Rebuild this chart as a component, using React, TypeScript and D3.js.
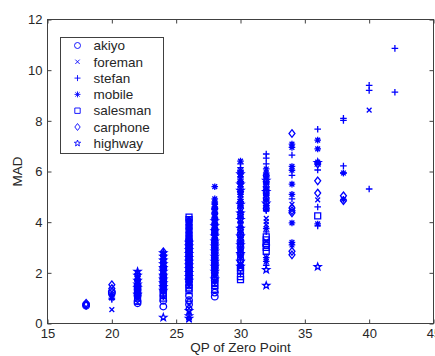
import React, { useEffect, useRef } from 'react';
import * as d3 from 'd3';

const qpTicks = [15, 20, 25, 30, 35, 40, 45];
const madTicks = [0, 2, 4, 6, 8, 10, 12];

// each entry: [QP, MAD values measured at that QP]
type Column = [number, number[]];

const akiyo: Column[] = [
  [18, [0.75, 0.7]],
  [20, [1.2, 1.25]],
  [22, [0.8, 0.88, 1.1, 1.2, 1.35, 1.5]],
  [24, [0.67, 0.9, 1.3, 1.45, 1.6, 1.75, 1.9, 2.2]],
  [26, [0.75, 0.92, 1.1, 1.5, 1.65, 1.8, 1.95, 2.1, 2.25, 2.4, 2.55, 2.7, 2.85, 3.0, 3.15, 3.3]],
  [28, [1.06, 1.22, 1.7, 1.85, 2.0, 2.2, 2.4, 2.6, 2.8, 3.0, 3.2]],
  [30, [2.5, 2.75, 3.0, 3.25, 3.5]],
  [32, [3.1]],
];
const foreman: Column[] = [
  [20, [0.55, 1.05]],
  [22, [0.82, 1.0, 1.2, 1.4, 1.6, 1.8]],
  [24, [1.4, 1.55, 1.7, 1.85, 2.0, 2.15, 2.3, 2.45, 2.6, 2.75]],
  [26, [0.15, 0.45, 1.45, 1.6, 1.75, 1.9, 2.05, 2.2, 2.35, 2.5, 2.65, 2.8, 2.95, 3.1, 3.25, 3.4, 3.55, 3.7, 3.85]],
  [28, [1.9, 2.1, 2.3, 2.5, 2.7, 2.9, 3.1, 3.3, 3.5, 3.7, 3.9, 4.1, 4.3]],
  [30, [2.7, 3.0, 3.3, 3.6, 3.9, 4.2, 4.5, 4.8, 5.1]],
  [32, [4.15, 4.02, 3.9, 3.25]],
  [34, [4.7]],
  [36, [4.88]],
  [40, [8.42]],
];
const stefan: Column[] = [
  [20, [1.1, 0.95]],
  [22, [1.05, 1.25, 1.35, 1.55, 1.75]],
  [24, [1.05, 1.25, 1.4, 1.55, 1.7, 1.85, 2.0, 2.15, 2.3, 2.45, 2.55, 2.7]],
  [26, [1.6, 1.75, 1.9, 2.05, 2.2, 2.35, 2.5, 2.65, 2.8, 2.95, 3.1, 3.25, 3.4, 3.55, 3.7, 3.85, 4.0]],
  [28, [1.65, 1.9, 2.1, 2.3, 2.5, 2.7, 2.9, 3.1, 3.3, 3.5, 3.7, 3.9, 4.1, 4.3, 4.5, 4.75]],
  [30, [1.95, 2.4, 2.65, 2.9, 3.15, 3.4, 3.6, 3.8, 4.0, 4.2, 4.4, 4.6, 4.8, 5.0, 5.2, 5.4, 5.6, 5.8, 6.0, 6.15, 6.3]],
  [32, [6.69, 6.53, 6.3, 5.75, 5.5, 5.3, 5.05, 4.85, 4.65, 4.45, 3.62, 2.3]],
  [34, [6.65, 5.85, 4.92]],
  [36, [7.67, 6.06, 4.6, 3.85]],
  [38, [8.1, 8.02, 6.22, 5.94]],
  [40, [9.4, 9.2, 5.31]],
  [42, [10.86, 9.13]],
];
const mobile: Column[] = [
  [20, [1.0, 1.15]],
  [22, [1.15, 1.3, 1.45, 1.65, 1.85]],
  [24, [1.35, 1.5, 1.65, 1.8, 1.95, 2.1, 2.25, 2.4, 2.55, 2.65]],
  [26, [1.55, 1.7, 1.85, 2.0, 2.15, 2.3, 2.45, 2.6, 2.75, 2.9, 3.05, 3.2, 3.35, 3.5, 3.65, 3.8, 3.95, 4.1]],
  [28, [5.4, 4.92, 4.8, 4.7, 4.6, 4.5, 4.4, 4.2, 4.0, 3.8, 3.6, 3.4, 3.2, 3.0, 2.8, 2.6, 2.4, 2.2]],
  [30, [6.41, 6.05, 5.9, 5.7, 5.5, 5.3, 5.1, 4.9, 4.65, 4.4, 4.2, 4.0, 3.8, 3.6, 3.4, 3.2, 2.9, 2.6, 2.3]],
  [32, [6.1, 5.94, 5.8, 5.55, 5.35, 5.1, 4.9, 4.65, 4.5, 3.75, 2.6, 2.45]],
  [34, [7.08, 6.95, 6.2, 6.05, 5.5, 5.1, 3.97, 3.2, 3.1]],
  [36, [7.24, 6.89, 6.37, 3.93]],
  [38, [5.94, 4.9]],
];
const salesman: Column[] = [
  [22, [1.0, 1.25]],
  [24, [1.0, 1.1, 1.2]],
  [26, [4.2, 4.1, 3.8, 3.5, 1.4, 1.3]],
  [28, [1.35, 1.5, 1.62, 2.3, 3.6]],
  [30, [1.73, 1.85, 2.1, 2.2]],
  [32, [3.42, 3.3, 3.15, 3.0, 2.85]],
  [36, [4.25]],
];
const carphone: Column[] = [
  [18, [0.8, 0.72]],
  [20, [1.53, 1.38]],
  [22, [1.1, 1.3, 1.5, 1.7, 1.95]],
  [24, [2.83, 2.7, 2.55, 2.4, 2.25, 2.1, 1.95, 1.8, 1.65, 1.5]],
  [26, [0.6, 0.85, 1.65, 1.8, 1.95, 2.1, 2.25, 2.4, 2.55, 2.7, 2.85, 3.0, 3.15, 3.3, 3.45, 3.6, 3.75, 3.9, 4.05]],
  [28, [1.8, 2.0, 2.15, 2.35, 2.55, 2.75, 2.95, 3.15, 3.35, 3.55, 3.75, 3.95, 4.15, 4.35, 4.55]],
  [30, [2.8, 3.1, 3.7, 4.3, 4.55, 4.8, 5.2, 5.6]],
  [32, [5.85, 5.6, 5.4, 5.15, 4.95, 4.75, 4.55]],
  [34, [7.5, 4.56, 4.45, 4.37, 2.85, 2.71]],
  [36, [6.3, 5.63, 5.15]],
  [38, [5.04, 4.85]],
];
const highway: Column[] = [
  [22, [2.05, 1.9, 1.7, 1.55, 1.4, 1.15]],
  [24, [0.24, 1.3, 1.45, 1.6, 1.75, 1.9, 2.05, 2.2, 2.35, 2.5, 2.65, 2.78]],
  [26, [0.2, 0.3, 0.5, 1.7, 1.85, 2.0, 2.15, 2.3, 2.45, 2.6, 2.75, 2.9, 3.05, 3.2]],
  [28, [1.75, 2.05, 2.25, 2.45, 2.65, 2.85, 3.05, 3.25, 3.45, 3.65, 3.85, 4.05]],
  [30, [2.25, 2.45, 2.75, 3.1, 3.45, 3.75, 4.1, 4.35, 4.7, 5.25, 5.5, 5.9]],
  [32, [5.65, 5.2, 4.75, 2.12, 1.5]],
  [36, [6.35, 2.24]],
];

const seriesNames = ['akiyo', 'foreman', 'stefan', 'mobile', 'salesman', 'carphone', 'highway'];
const seriesData = [akiyo, foreman, stefan, mobile, salesman, carphone, highway];

// MATLAB style outline markers, size = radius in px
const markCircle = { draw(c: any, r: number) { c.moveTo(r, 0); c.arc(0, 0, r, 0, 2 * Math.PI); } };
const markX = { draw(c: any, r: number) { const k = r * 0.72; c.moveTo(-k, -k); c.lineTo(k, k); c.moveTo(-k, k); c.lineTo(k, -k); } };
const markPlus = { draw(c: any, r: number) { c.moveTo(-r, 0); c.lineTo(r, 0); c.moveTo(0, -r); c.lineTo(0, r); } };
const markStar = {
  draw(c: any, r: number) {
    markPlus.draw(c, r);
    const k = r * 0.72;
    c.moveTo(-k, -k); c.lineTo(k, k); c.moveTo(-k, k); c.lineTo(k, -k);
  }
};
const markSquare = { draw(c: any, r: number) { const k = r * 0.9; c.rect(-k, -k, 2 * k, 2 * k); } };
const markDiamond = {
  draw(c: any, r: number) {
    c.moveTo(0, -r * 1.15); c.lineTo(r * 0.9, 0); c.lineTo(0, r * 1.15); c.lineTo(-r * 0.9, 0); c.closePath();
  }
};
const markPentagram = {
  draw(c: any, r: number) {
    for (let i = 0; i < 10; i++) {
      const a = -Math.PI / 2 + i * Math.PI / 5;
      const rr = i % 2 === 0 ? r * 1.1 : r * 0.45;
      if (i === 0) c.moveTo(rr * Math.cos(a), rr * Math.sin(a));
      else c.lineTo(rr * Math.cos(a), rr * Math.sin(a));
    }
    c.closePath();
  }
};
const markers = [markCircle, markX, markPlus, markStar, markSquare, markDiamond, markPentagram];

const W = 435;
const H = 356;
const margin = { left: 47.5, right: 1.5, top: 19.5, bottom: 32.5 };
const font = "Arial, 'Liberation Sans', sans-serif";
const ink = '#262626';
const blue = '#0000ff';

export default function App() {
  const ref = useRef<SVGSVGElement>(null);

  useEffect(() => {
    const svg = d3.select(ref.current);
    svg.selectAll('*').remove();

    const x = d3.scaleLinear().domain([15, 45]).range([margin.left, W - margin.right]);
    const y = d3.scaleLinear().domain([0, 12]).range([H - margin.bottom, margin.top]);

    svg.append('rect')
      .attr('width', W).attr('height', H).attr('fill', 'white');

    const styleAxis = (g: any) => {
      g.select('.domain').remove();
      g.selectAll('line').attr('stroke', '#404040');
      g.selectAll('text').attr('fill', ink).attr('font-family', font).attr('font-size', 13);
    };

    svg.append('g')
      .attr('transform', `translate(0,${y(0)})`)
      .call(d3.axisBottom(x).tickValues(qpTicks).tickSize(-4).tickPadding(5))
      .call(styleAxis);
    svg.append('g')
      .attr('transform', `translate(0,${y(12)})`)
      .call(d3.axisTop(x).tickValues(qpTicks).tickSize(-4).tickFormat(() => ''))
      .call(styleAxis);
    svg.append('g')
      .attr('transform', `translate(${x(15)},0)`)
      .call(d3.axisLeft(y).tickValues(madTicks).tickSize(-4).tickPadding(5))
      .call(styleAxis);
    svg.append('g')
      .attr('transform', `translate(${x(45)},0)`)
      .call(d3.axisRight(y).tickValues(madTicks).tickSize(-4).tickFormat(() => ''))
      .call(styleAxis);

    svg.append('rect')
      .attr('x', x(15)).attr('y', y(12))
      .attr('width', x(45) - x(15)).attr('height', y(0) - y(12))
      .attr('fill', 'none').attr('stroke', '#404040');

    // points
    seriesData.forEach((series, si) => {
      const sym = d3.symbol().type(markers[si] as any).size(3.3);
      const pts = series.flatMap(([qp, vals]) => vals.map((v) => [qp, v]));
      svg.append('g')
        .selectAll('path')
        .data(pts)
        .enter()
        .append('path')
        .attr('transform', (d) => `translate(${x(d[0])},${y(d[1])})`)
        .attr('d', sym as any)
        .attr('fill', 'none')
        .attr('stroke', blue)
        .attr('stroke-width', 1.3);
    });

    // axis labels
    svg.append('text')
      .attr('x', (x(15) + x(45)) / 2).attr('y', 352)
      .attr('text-anchor', 'middle')
      .attr('font-family', font).attr('font-size', 13.5).attr('fill', ink)
      .text('QP of Zero Point');
    svg.append('text')
      .attr('transform', `translate(22,${(y(0) + y(12)) / 2}) rotate(-90)`)
      .attr('text-anchor', 'middle')
      .attr('font-family', font).attr('font-size', 13.5).attr('fill', ink)
      .text('MAD');

    // legend
    const legend = svg.append('g').attr('transform', 'translate(60.5,37.5)');
    legend.append('rect')
      .attr('width', 103).attr('height', 116)
      .attr('fill', 'white').attr('stroke', '#404040');
    seriesNames.forEach((name, i) => {
      const row = legend.append('g').attr('transform', `translate(0,${8 + i * 16.3})`);
      row.append('path')
        .attr('transform', 'translate(17,0)')
        .attr('d', d3.symbol().type(markers[i] as any).size(3) as any)
        .attr('fill', 'none').attr('stroke', blue).attr('stroke-width', 0.9);
      row.append('text')
        .attr('x', 33).attr('dy', '0.35em')
        .attr('font-family', font).attr('font-size', 13.5).attr('fill', ink)
        .text(name);
    });
  }, []);

  return (
    <svg ref={ref} width={W} height={H} style={{ position: 'absolute', left: 0, top: 0, display: 'block' }} />
  );
}
